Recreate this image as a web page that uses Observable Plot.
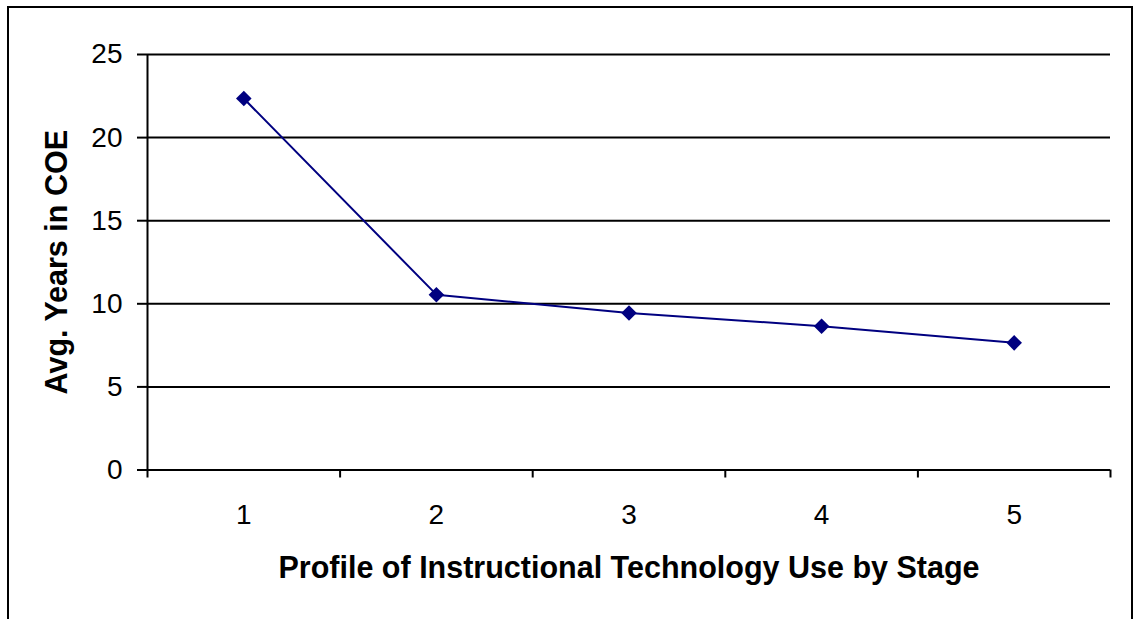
<!DOCTYPE html>
<html>
<head>
<meta charset="utf-8">
<script src="https://cdn.jsdelivr.net/npm/d3@7"></script>
<script src="https://cdn.jsdelivr.net/npm/@observablehq/plot@0.6"></script>
<style>
  html, body { margin: 0; padding: 0; background: #fff; overflow: hidden; }
  #wrap { position: relative; width: 1136px; height: 619px; }
  #border { position: absolute; left: 7px; top: 6px; width: 1122px; height: 700px;
            border: 2px solid #000; border-bottom: none; }
  #chart { position: absolute; left: 0; top: 0; }
</style>
</head>
<body>
<div id="wrap"><div id="border"></div><div id="chart"></div></div>
<script>
const stages = [1, 2, 3, 4, 5];
const avgYears = [22.35, 10.55, 9.45, 8.65, 7.65];
const yTicks = [0, 5, 10, 15, 20, 25];
const xEdges = [0.5, 1.5, 2.5, 3.5, 4.5, 5.5];
const xTitle = "Profile of Instructional Technology Use by Stage";
const yTitle = "Avg. Years in COE";

const data = stages.map((s, i) => ({stage: s, years: avgYears[i]}));
const font = "'Liberation Sans', Arial, sans-serif";
const navy = "#000080";

const plot = Plot.plot({
  width: 1136,
  height: 619,
  marginLeft: 147,
  marginRight: 26,
  marginTop: 54,
  marginBottom: 149.5,
  style: {fontFamily: font, background: "transparent", color: "#000"},
  x: {domain: [0.5, 5.5]},
  y: {domain: [0, 25]},
  marks: [
    Plot.ruleY(yTicks, {stroke: "#000", strokeWidth: 2}),
    Plot.ruleX([0.5], {stroke: "#000", strokeWidth: 2}),
    Plot.axisY({ticks: yTicks, tickSize: 10, strokeWidth: 2, tickFormat: () => "", label: null}),
    Plot.text(yTicks, {y: d => d, text: d => String(d), frameAnchor: "left", textAnchor: "end", dx: -25, fontSize: 28, fill: "#000"}),
    Plot.axisX({ticks: xEdges, tickSize: 8, strokeWidth: 2, tickFormat: () => "", label: null}),
    Plot.text(stages, {x: d => d, text: d => String(d), frameAnchor: "bottom", lineAnchor: "top", dy: 34, fontSize: 28, fill: "#000"}),
    Plot.line(data, {x: "stage", y: "years", stroke: navy, strokeWidth: 2}),
    Plot.dot(data, {x: "stage", y: "years", symbol: "diamond2", r: 7, fill: navy, stroke: "none"}),
    Plot.text([xTitle], {frameAnchor: "bottom", lineAnchor: "top", dy: 86, fontSize: 30.5, fontWeight: "bold", fill: "#000"}),
    Plot.text([yTitle], {frameAnchor: "left", rotate: -90, dx: -90, fontSize: 30.5, fontWeight: "bold", fill: "#000", textAnchor: "middle"})
  ]
});
document.getElementById("chart").appendChild(plot);
</script>
</body>
</html>
